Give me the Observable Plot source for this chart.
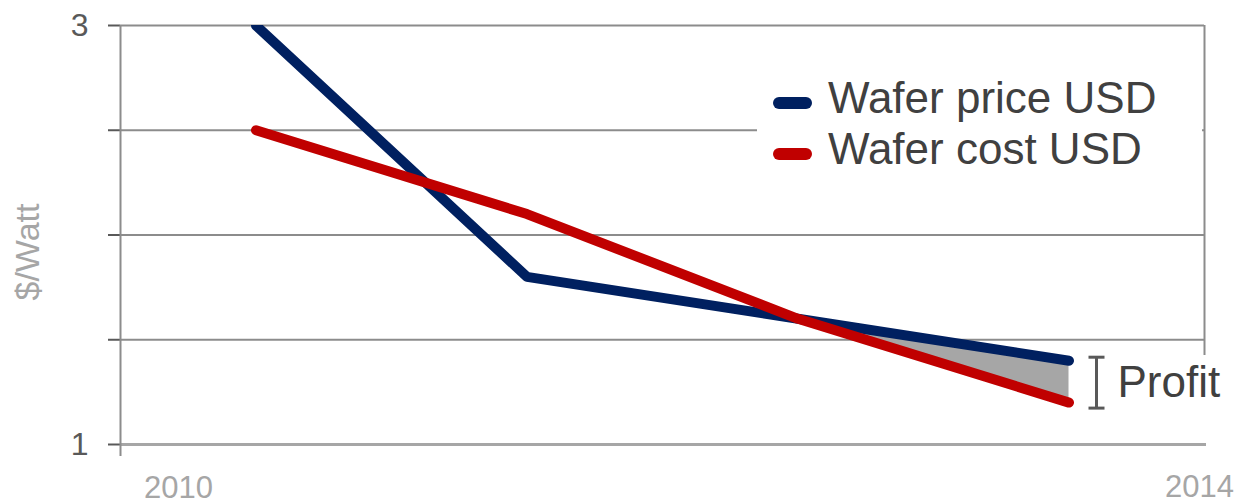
<!DOCTYPE html>
<html>
<head>
<meta charset="utf-8">
<script src="https://cdn.jsdelivr.net/npm/d3@7"></script>
<script src="https://cdn.jsdelivr.net/npm/@observablehq/plot@0.6"></script>
<style>
  html, body { margin: 0; padding: 0; background: #fff; }
  #chart svg { display: block; }
</style>
</head>
<body>
<div id="chart"></div>
<script>
// ---- data ----
const years = [2010.5, 2011.5, 2012.5, 2013.5];
const waferPrice = [3.0, 1.8, 1.6, 1.4];
const waferCost = [2.5, 2.1, 1.6, 1.2];
const seriesNames = ["Wafer price USD", "Wafer cost USD"];
const seriesColors = ["#002060", "#C00000"];
const yTicks = [1, 1.5, 2, 2.5, 3];
const yTickLabels = [1, 3];
const xTickLabels = [2010, 2014];
const yLabel = "$/Watt";
const profitLabel = "Profit";

const rows = years.map((x, i) => ({x, price: waferPrice[i], cost: waferCost[i]}));
const profitRows = rows.slice(2); // where price exceeds cost

const font = "'Liberation Sans', Arial, sans-serif";

function legendMark(index, scales, values, dims) {
  const g = d3.create("svg:g").attr("font-family", font);
  const left = 757, top = 62, right = dims.width - dims.marginRight - 2, bottom = 196;
  g.append("rect").attr("x", left).attr("y", top).attr("width", right - left).attr("height", bottom - top).attr("fill", "#fff");
  const rowsY = [103, 154];
  seriesNames.forEach((name, i) => {
    g.append("line").attr("x1", 779).attr("x2", 806).attr("y1", rowsY[i]).attr("y2", rowsY[i])
      .attr("stroke", seriesColors[i]).attr("stroke-width", 12).attr("stroke-linecap", "round");
    g.append("text").attr("x", 828).attr("y", rowsY[i] + 10).attr("font-size", 44)
      .attr("text-anchor", "start").attr("fill", "#404040").text(name);
  });
  return g.node();
}

function profitMark(index, scales, values, dims) {
  const g = d3.create("svg:g").attr("font-family", font);
  const last = profitRows[profitRows.length - 1];
  const bx = scales.x(last.x) + 28;
  const t = scales.y(last.price) - 3;
  const b = scales.y(last.cost) + 6;
  const st = {stroke: "#595959", "stroke-width": 3};
  const add = (x1, y1, x2, y2) => {
    const l = g.append("line").attr("x1", x1).attr("y1", y1).attr("x2", x2).attr("y2", y2);
    for (const k in st) l.attr(k, st[k]);
  };
  add(bx, t, bx, b);
  add(bx - 8, t, bx + 8, t);
  add(bx - 8, b, bx + 8, b);
  g.append("text").attr("x", bx + 21).attr("y", (t + b) / 2 + 14).attr("font-size", 44)
    .attr("text-anchor", "start").attr("fill", "#404040").text(profitLabel);
  return g.node();
}

const chart = Plot.plot({
  width: 1237,
  height: 503,
  marginLeft: 120,
  marginRight: 33,
  marginTop: 25,
  marginBottom: 59,
  style: {fontFamily: font, background: "#fff", overflow: "visible"},
  x: {domain: [2010, 2014], axis: null},
  y: {domain: [1, 3], axis: null},
  marks: [
    // gridlines
    Plot.ruleY(yTicks.filter(d => d !== 1), {stroke: "#8c8c8c", strokeWidth: 2}),
    Plot.ruleY([1], {stroke: "#a6a6a6", strokeWidth: 3, insetRight: -2}),
    // y axis
    Plot.axisY({
      ticks: yTicks,
      tickFormat: d => yTickLabels.includes(d) ? String(d) : "",
      tickSize: 12,
      tickPadding: 20,
      fontSize: 32,
      color: "#595959",
      strokeWidth: 2,
      label: null
    }),
    Plot.ruleX([2010], {stroke: "#8c8c8c", strokeWidth: 2, insetBottom: -12}),
    // y label
    Plot.text([yLabel], {frameAnchor: "left", text: d => d, rotate: -90, dx: -92, dy: 17,
      textAnchor: "middle", fontSize: 34, fill: "#a6a6a6"}),
    // x labels
    Plot.text([xTickLabels[0]], {x: d => d, frameAnchor: "bottom", text: d => String(d), dx: 58, dy: 44,
      fontSize: 31, fill: "#a6a6a6", lineAnchor: "middle"}),
    Plot.text([xTickLabels[1]], {x: d => d, frameAnchor: "bottom", text: d => String(d), dx: -5, dy: 43,
      fontSize: 31, fill: "#a6a6a6", lineAnchor: "middle"}),
    // legend (white box over gridline)
    legendMark,
    // right border
    Plot.ruleX([2014], {stroke: "#8c8c8c", strokeWidth: 2, insetBottom: 89}),
    // profit area
    Plot.areaY(profitRows, {x: "x", y1: "cost", y2: "price", fill: "#a6a6a6"}),
    // lines
    Plot.line(rows, {x: "x", y: "price", stroke: seriesColors[0], strokeWidth: 10,
      strokeLinecap: "round", strokeLinejoin: "round", clip: true}),
    Plot.line(rows, {x: "x", y: "cost", stroke: seriesColors[1], strokeWidth: 10,
      strokeLinecap: "round", strokeLinejoin: "round"}),
    profitMark
  ]
});

document.getElementById("chart").appendChild(chart);
</script>
</body>
</html>
